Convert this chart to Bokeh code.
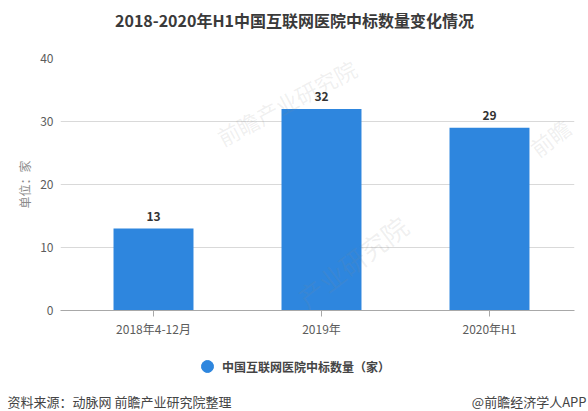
from bokeh.plotting import figure
from bokeh.layouts import column
from bokeh.core.properties import value
from bokeh.models import Range1d, FixedTicker, Label, LabelSet, Legend, LegendItem, ColumnDataSource
from bokeh.embed import file_html
from bokeh.resources import INLINE

categories = ["2018年4-12月", "2019年", "2020年H1"]
values = [13, 32, 29]
y_ticks = [0, 10, 20, 30, 40]
title = "2018-2020年H1中国互联网医院中标数量变化情况"
series_name = "中国互联网医院中标数量（家）"
y_label = "单位：家"
source_text = "资料来源：动脉网 前瞻产业研究院整理"
credit_text = "@前瞻经济学人APP"
watermarks = ["前瞻产业研究院", "产业研究院", "前瞻"]

CJK = "Noto Sans CJK SC"
BLUE = "#2e86de"
W, H = 588, 411
LEFT, BOTTOM = 60, 310
HEAD_H = 40
MAIN_BOTTOM = 345


def band(height):
    b = figure(width=W, height=height, output_backend="svg", toolbar_location=None,
               x_range=Range1d(0, 1), y_range=Range1d(0, 1), x_axis_type=None, y_axis_type=None,
               min_border=0, outline_line_color=None, background_fill_color="white",
               border_fill_color="white", frame_align=False)
    b.xgrid.visible = False
    b.ygrid.visible = False
    return b


xs = list(range(len(categories)))
src = ColumnDataSource(dict(x=xs, value=values, text=[str(v) for v in values], blank=[float("nan")] * len(values)))

# Title band
head = band(HEAD_H)
head.add_layout(Label(text=title, x=W / 2, y=HEAD_H - 19, x_units="screen", y_units="screen", text_font=CJK,
                      text_font_size="16px", text_font_style="bold", text_color="#3a3a3a",
                      text_align="center", text_baseline="middle"))

# Chart
p = figure(width=W, height=MAIN_BOTTOM - HEAD_H, output_backend="svg", toolbar_location=None,
           x_range=Range1d(-0.5536, 2.506), y_range=Range1d(0, 40), frame_align=False,
           min_border_left=LEFT, min_border_right=14, min_border_top=58 - HEAD_H,
           min_border_bottom=MAIN_BOTTOM - BOTTOM,
           outline_line_color=None, background_fill_color="white", border_fill_color="white")

p.xgrid.visible = False
p.ygrid.grid_line_color = "#d9d9d9"
p.ygrid.grid_line_width = 1

ax = p.xaxis[0]
ax.ticker = FixedTicker(ticks=xs)
ax.major_label_overrides = {i: c for i, c in zip(xs, categories)}
ax.axis_line_color = "#a8a8a8"
ax.major_tick_line_color = "#a8a8a8"
ax.major_tick_in = 0
ax.major_tick_out = 6
ax.minor_tick_line_color = None
ax.major_label_text_font = CJK
ax.major_label_text_font_size = "12px"
ax.major_label_text_color = "#5c5c5c"
ax.major_label_standoff = 3

ay = p.yaxis[0]
ay.ticker = FixedTicker(ticks=y_ticks)
ay.axis_line_color = None
ay.major_tick_line_color = None
ay.minor_tick_line_color = None
ay.major_label_text_font = CJK
ay.major_label_text_font_size = "12px"
ay.major_label_text_color = "#5c5c5c"
ay.major_label_standoff = 1
ay.axis_label = y_label
ay.axis_label_text_font = CJK
ay.axis_label_text_font_size = "12px"
ay.axis_label_text_font_style = "normal"
ay.axis_label_text_color = "#8a8a8a"
ay.axis_label_standoff = 4

p.vbar(x="x", top="value", width=0.476, source=src, color=BLUE, line_color=None)
p.add_layout(LabelSet(x="x", y="value", text="text", source=src, text_align="center", text_baseline="bottom",
                      y_offset=8, text_font=value(CJK), text_font_size="12px", text_font_style="bold",
                      text_color="#333333"))

for text, x, y, ang, size in [(watermarks[0], 218, 138, 0.49, "22px"),
                              (watermarks[1], 300, 300, 0.65, "26px"),
                              (watermarks[2], 532, 150, 0.65, "22px")]:
    p.add_layout(Label(text=text, x=x - LEFT, y=BOTTOM - y, x_units="screen", y_units="screen",
                       angle=ang, text_font=CJK, text_font_size=size, text_color="#888888",
                       text_alpha=0.13, text_baseline="middle"))

# Band under the chart: legend and footer
foot = band(H - MAIN_BOTTOM)
dot = foot.scatter(x="x", y="blank", source=src, marker="circle", size=12, color=BLUE)
foot.add_layout(Legend(items=[LegendItem(label=series_name, renderers=[dot])],
                       location=(192, 30), orientation="horizontal", border_line_color=None,
                       background_fill_alpha=0, label_text_font=CJK, label_text_font_size="12px",
                       label_text_font_style="bold", label_text_color="#444444",
                       glyph_width=30, glyph_height=30, label_standoff=-4, padding=0, margin=0))
foot.add_layout(Label(text=source_text, x=7, y=10, x_units="screen", y_units="screen", text_font=CJK,
                      text_font_size="13px", text_color="#444444", text_baseline="middle"))
foot.add_layout(Label(text=credit_text, x=586, y=10, x_units="screen", y_units="screen", text_font=CJK,
                      text_font_size="13px", text_color="#444444", text_baseline="middle", text_align="right"))

page = column(head, p, foot, spacing=0)
open("out.html", "w").write(file_html(page, INLINE))
